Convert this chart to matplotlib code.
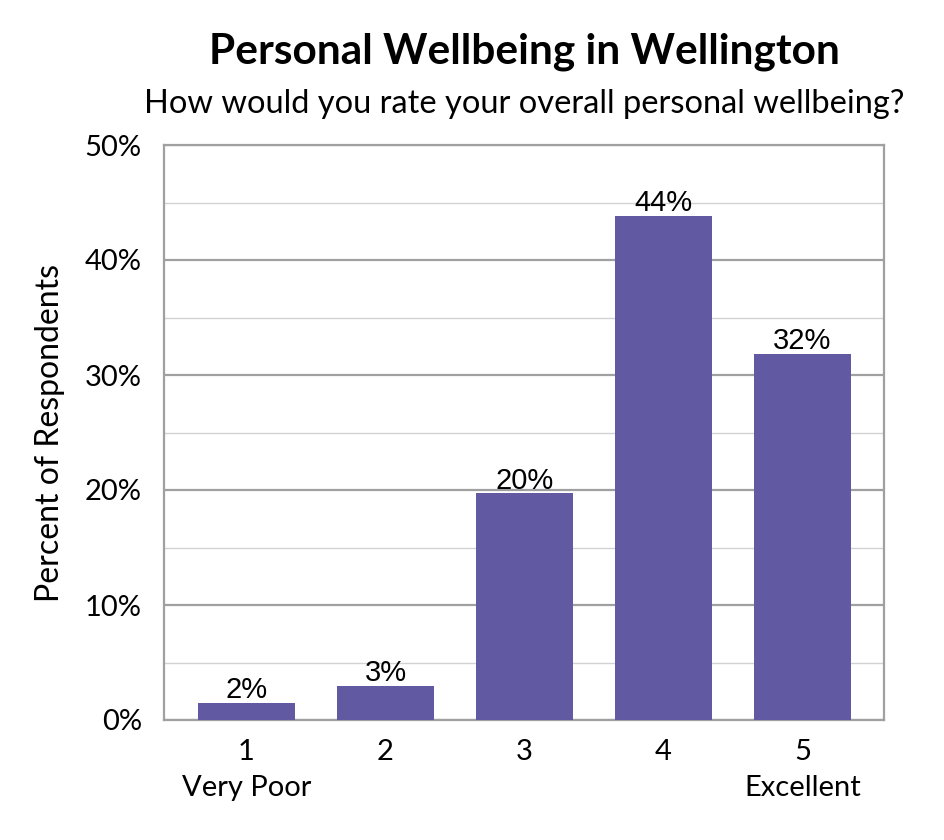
import matplotlib
matplotlib.use("Agg")
import matplotlib.pyplot as plt
from matplotlib.ticker import MultipleLocator, FuncFormatter

# data
ratings = ["1\nVery Poor", "2", "3", "4", "5\nExcellent"]
percent = [1.5, 3.0, 19.7, 43.8, 31.8]
bar_labels = ["2%", "3%", "20%", "44%", "32%"]

title = "Personal Wellbeing in Wellington"
subtitle = "How would you rate your overall personal wellbeing?"
ylabel = "Percent of Respondents"

bar_color = "#615AA3"
frame_color = "#A0A0A0"
font = "Lato"

fig = plt.figure(figsize=(9.45, 8.4), dpi=100)
ax = fig.add_axes([164 / 945, 120 / 840, 720 / 945, 575 / 840])

x = list(range(len(ratings)))
bars = ax.bar(x, percent, width=0.70, color=bar_color, zorder=3)

for b, lab in zip(bars, bar_labels):
    ax.text(b.get_x() + b.get_width() / 2, b.get_height() - 0.1, lab,
            ha="center", va="bottom", fontsize=21,
            family="Liberation Sans", zorder=4)

ax.set_xlim(-0.593, 4.586)
ax.set_ylim(0, 50)
ax.set_xticks(x)
ax.set_xticklabels(ratings, fontsize=21, family=font, linespacing=1.45)
ax.yaxis.set_major_locator(MultipleLocator(10))
ax.yaxis.set_minor_locator(MultipleLocator(5))
ax.yaxis.set_major_formatter(FuncFormatter(lambda v, p: f"{v:.0f}%"))
for t in ax.get_yticklabels():
    t.set_fontsize(21)
    t.set_family(font)

ax.tick_params(axis="both", which="both", length=0)
ax.tick_params(axis="y", pad=16)
ax.tick_params(axis="x", pad=14)

ax.grid(axis="y", which="major", color=frame_color, linewidth=1.6, zorder=0)
ax.grid(axis="y", which="minor", color="#D2D2D2", linewidth=1.0, zorder=0)
for s in ax.spines.values():
    s.set_color(frame_color)
    s.set_linewidth(1.6)

ax.set_ylabel(ylabel, fontsize=23, family=font, labelpad=14)

fig.text(524, 840 - 52, title, transform=None, ha="center", va="center",
         fontsize=30.5, fontweight="bold", family=font)
fig.text(524, 840 - 104, subtitle, transform=None, ha="center", va="center",
         fontsize=23.5, family=font)

fig.savefig("out.png", dpi=100)
